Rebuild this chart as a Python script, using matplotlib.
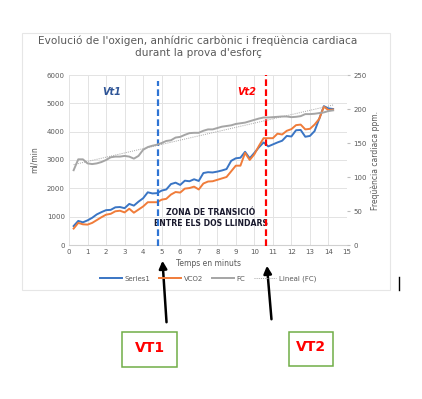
import numpy as np
import matplotlib
matplotlib.use("Agg")
import matplotlib.pyplot as plt
from matplotlib.patches import Rectangle, FancyArrowPatch
from matplotlib.lines import Line2D

# Data
minutes = [0.25, 0.5, 0.75, 1.0, 1.25, 1.5, 1.75, 2.0, 2.25, 2.5, 2.75, 3.0, 3.25, 3.5, 3.75,
           4.0, 4.25, 4.5, 4.75, 5.0, 5.25, 5.5, 5.75, 6.0, 6.25, 6.5, 6.75, 7.0, 7.25, 7.5,
           7.75, 8.0, 8.25, 8.5, 8.75, 9.0, 9.25, 9.5, 9.75, 10.0, 10.25, 10.5, 10.75, 11.0,
           11.25, 11.5, 11.75, 12.0, 12.25, 12.5, 12.75, 13.0, 13.25, 13.5, 13.75, 14.0, 14.25]
vo2 = [670, 850, 800, 870, 960, 1080, 1160, 1230, 1240, 1330, 1340, 1300, 1450, 1390, 1530,
       1650, 1860, 1820, 1830, 1920, 1960, 2150, 2200, 2120, 2270, 2250, 2320, 2260, 2540, 2570,
       2560, 2590, 2630, 2680, 2970, 3060, 3080, 3290, 3060, 3250, 3450, 3620, 3480, 3550,
       3620, 3680, 3850, 3830, 4050, 4060, 3820, 3850, 4020, 4450, 4900, 4820, 4800]
vco2 = [580, 780, 730, 720, 780, 880, 980, 1070, 1100, 1190, 1210, 1150, 1280, 1140, 1250,
        1360, 1510, 1510, 1510, 1600, 1630, 1780, 1870, 1850, 1990, 2010, 2060, 1960, 2170, 2240,
        2250, 2300, 2350, 2400, 2600, 2800, 2800, 3250, 3000, 3200, 3500, 3770, 3770, 3770,
        3930, 3900, 4030, 4090, 4230, 4250, 4080, 4100, 4250, 4450, 4880, 4760, 4780]
fc = [110, 126, 126, 120, 119, 120, 122, 125, 129, 130, 130, 131, 130, 127, 131,
      140, 144, 146, 147.5, 150, 153, 154, 158, 159, 162, 164.5, 165, 165, 168, 170,
      170, 172, 174, 175, 176, 178, 179, 180, 182, 184, 186, 187.5, 187.5, 188,
      188.5, 189, 189, 188, 188.5, 189.5, 192.5, 192.5, 193, 194, 195, 197, 198]
vt1_time, vt2_time = 4.82, 10.62
series_names = ["Series1", "VCO2", "FC", "Lineal (FC)"]

c_blue = "#3a75c4"
c_orange = "#f07c3a"
c_gray = "#a5a5a5"
c_text = "#595959"

W, H = 422, 399


def fx(px):
    return px / W


def fy(py):
    return 1 - py / H


fig = plt.figure(figsize=(4.22, 3.99), dpi=100)
fig.patch.set_facecolor("white")

# chart frame
fig.patches.append(Rectangle((fx(22), fy(290)), fx(390) - fx(22), fy(33) - fy(290),
                             transform=fig.transFigure, fill=False, ec="#e6e6e6", lw=0.8))

ax = fig.add_axes([fx(69), fy(245), fx(347) - fx(69), fy(75) - fy(245)])
ax2 = ax.twinx()

ax.plot(minutes, vo2, color=c_blue, lw=1.4, zorder=3)
ax.plot(minutes, vco2, color=c_orange, lw=1.4, zorder=3)
ax2.plot(minutes, fc, color=c_gray, lw=1.4)
coef = np.polyfit(minutes, fc, 1)
ax2.plot(minutes, np.polyval(coef, minutes), color=c_gray, lw=0.7, ls=(0, (1, 1.2)))

ax.set_xlim(0, 15)
ax.set_ylim(0, 6000)
ax2.set_ylim(0, 250)
ax.set_xticks(range(16))
ax.set_yticks(range(0, 6001, 1000))
ax2.set_yticks(range(0, 251, 50))
ax.grid(True, color="#e3e3e3", lw=0.7)
ax.set_axisbelow(True)
for a in (ax, ax2):
    for s in a.spines.values():
        s.set_visible(False)
    a.tick_params(labelsize=5, colors=c_text, length=0, pad=3)
ax.spines["bottom"].set_visible(True)
ax.spines["bottom"].set_color("#d0d0d0")
ax2.tick_params(axis="y", length=2.5, color="#bfbfbf", pad=2)
ax.set_xlabel("Temps en minuts", fontsize=5.5, color=c_text, labelpad=3)
ax.set_ylabel("ml/min", fontsize=5.5, color=c_text, labelpad=6)
ax2.set_ylabel("Freqüència cardiaca ppm.", fontsize=5.5, color=c_text, labelpad=3)

# threshold markers
ax.plot([vt1_time, vt1_time], [-50, 5800], color="#2e74d4", lw=1.6, ls=(0, (3, 1.5)),
        clip_on=False, zorder=4)
ax.plot([vt2_time, vt2_time], [-50, 6000], color="#ff0000", lw=1.6, ls=(0, (3, 1.5)),
        clip_on=False, zorder=4)
ax.text(2.3, 5400, "Vt1", color="#2f5597", fontsize=7, fontweight="bold", style="italic",
        ha="center", va="center")
ax.text(9.6, 5400, "Vt2", color="#ff0000", fontsize=7, fontweight="bold", style="italic",
        ha="center", va="center")
ax.text(7.65, 960, "ZONA DE TRANSICIÓ\nENTRE ELS DOS LLINDARS", color="#1a1a2e", fontsize=5.6,
        fontweight="bold", ha="center", va="center", linespacing=1.35)

fig.text(fx(198), fy(47), "Evolució de l'oxigen, anhídric carbònic i freqüència cardiaca\n"
         "durant la prova d'esforç", ha="center", va="center", fontsize=7.6, color=c_text,
         linespacing=1.3)

handles = [Line2D([], [], color=c_blue, lw=1.4), Line2D([], [], color=c_orange, lw=1.4),
           Line2D([], [], color=c_gray, lw=1.4),
           Line2D([], [], color=c_gray, lw=0.7, ls=(0, (1, 1.2)))]
fig.legend(handles, series_names, loc="center", bbox_to_anchor=(fx(208), fy(279)), ncol=4,
           frameon=False, fontsize=5, handlelength=3.2, columnspacing=1.2, handletextpad=0.4,
           labelcolor=c_text)

# cursor mark, arrows and boxes below the chart
fig.add_artist(Line2D([fx(399), fx(399)], [fy(277), fy(290)], color="black", lw=1,
                      transform=fig.transFigure))
for tail, head in [((166.7, 325), (162.3, 258)), ((271.7, 322), (266.7, 263))]:
    fig.patches.append(FancyArrowPatch(
        (fx(tail[0]), fy(tail[1])), (fx(head[0]), fy(head[1])), transform=fig.transFigure,
        arrowstyle="-|>,head_length=4.5,head_width=2.3", color="black", lw=1.8))

for x0, x1, y0, y1, label in [(122.3, 177.3, 332.3, 367.3, "VT1"), (289.3, 333.3, 332.3, 366.3, "VT2")]:
    fig.patches.append(Rectangle((fx(x0), fy(y1)), fx(x1) - fx(x0), fy(y0) - fy(y1),
                                 transform=fig.transFigure, fill=False, ec="#70ad47", lw=1.1))
    fig.text(fx((x0 + x1) / 2), fy((y0 + y1) / 2 - 2), label, ha="center", va="center",
             color="#ff0000", fontsize=10, fontweight="bold")

fig.savefig("out.png", dpi=100)
